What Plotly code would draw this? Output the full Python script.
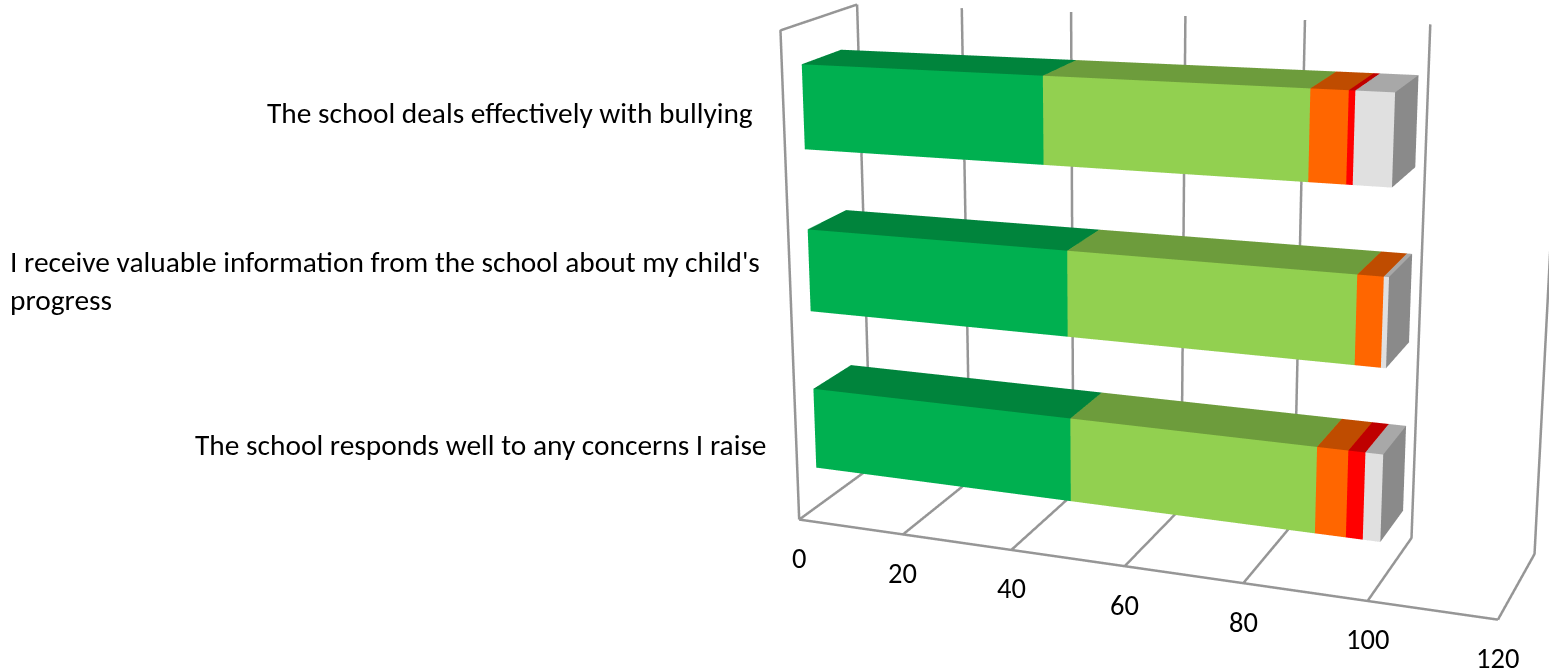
import plotly.graph_objects as go

categories = ["The school responds well to any concerns I raise",
              "I receive valuable information from the school about my child's<br>progress",
              "The school deals effectively with bullying"]
strongly_agree = [47.9, 47.5, 43.5]
agree = [41.6, 47.6, 43.6]
disagree = [5.0, 4.1, 5.9]
strongly_disagree = [2.7, 0.0, 1.0]
dont_know = [2.8, 0.8, 6.0]
front_colors = ["#00B050", "#92D050", "#FF6600", "#FF0000", "#E0E0E0"]
top_colors = ["#00843C", "#6D9C3C", "#BF4C00", "#BF0000", "#A8A8A8"]
side_color = "#8A8A8A"
x_ticks = [0, 20, 40, 60, 80, 100, 120]
values = [strongly_agree, agree, disagree, strongly_disagree, dont_know]

# Scene layout
FIG_W, FIG_H, SHIFT_Y, SHIFT_X = 1551, 1988, 659, 2
DEPTH, TALL = 0.247, 0.72
Y_FRONT, Y_BACK = 0.247, 0.764
BAR_H = 0.509
SLOTS = [0.507, 1.508, 2.506]
GRID = "#969696"
CAT_FONT = dict(family="Carlito, Calibri, Lato", size=29.4, color="black")
TICK_FONT = dict(family="Carlito, Calibri, Lato", size=28.5, color="black")

def px(p):  # window pixel column -> paper fraction
    return (p + SHIFT_X) / FIG_W

def py(p):  # window pixel row -> paper fraction of the taller figure
    return 1 - (p + SHIFT_Y) / FIG_H

fig = go.Figure()
for k in range(3):
    base = 0
    for s in range(5):
        v = values[s][k]
        if v <= 0:
            continue
        x0, x1 = base, base + v
        base = x1
        z0, z1 = SLOTS[k] - BAR_H / 2, SLOTS[k] + BAR_H / 2
        fig.add_trace(go.Mesh3d(
            x=[x0, x1, x1, x0, x0, x1, x1, x0],
            y=[Y_FRONT, Y_FRONT, Y_BACK, Y_BACK, Y_FRONT, Y_FRONT, Y_BACK, Y_BACK],
            z=[z0, z0, z0, z0, z1, z1, z1, z1],
            i=[0, 0, 4, 4, 1, 1, 0, 0, 3, 3, 0, 0],
            j=[1, 2, 5, 6, 2, 6, 1, 5, 2, 6, 3, 7],
            k=[2, 3, 6, 7, 6, 5, 5, 4, 6, 7, 7, 4],
            facecolor=[top_colors[s]] * 4 + [side_color] * 2 + [front_colors[s]] * 2 + [top_colors[s]] * 2 + [front_colors[s]] * 2,
            flatshading=True,
            lighting=dict(ambient=1, diffuse=0, specular=0, roughness=1, fresnel=0),
            hoverinfo="skip", showscale=False))

line = dict(color=GRID, width=5)
for t in x_ticks:
    fig.add_trace(go.Scatter3d(x=[t, t, t], y=[0, 1, 1], z=[0, 0, 3], mode="lines", line=line, hoverinfo="skip", showlegend=False))
fig.add_trace(go.Scatter3d(x=[0, 120], y=[0, 0], z=[0, 0], mode="lines", line=line, hoverinfo="skip", showlegend=False))
fig.add_trace(go.Scatter3d(x=[0, 0, 0], y=[0, 0, 1], z=[0, 3, 3], mode="lines", line=line, hoverinfo="skip", showlegend=False))

tick_notes = [dict(x=t, y=0, z=0, text=str(t), showarrow=False, yshift=-39, font=TICK_FONT) for t in x_ticks]
blank = dict(showbackground=False, showgrid=False, zeroline=False, showline=False,
             showticklabels=False, ticks="", title="", showspikes=False)

fig.update_layout(
    width=FIG_W, height=FIG_H, margin=dict(l=0, r=0, t=0, b=0), showlegend=False, paper_bgcolor="white",
    scene=dict(domain=dict(x=[0, 1], y=[0, 1]), dragmode="orbit",
               xaxis=dict(blank, range=[0, 120], tickvals=x_ticks),
               yaxis=dict(blank, range=[0, 1]),
               zaxis=dict(blank, range=[0, 3]),
               aspectmode="manual", aspectratio=dict(x=1, y=DEPTH, z=TALL),
               camera=dict(eye=dict(x=1.026, y=-3.056, z=0.869),
                           center=dict(x=-0.41, y=-0.35, z=-0.008),
                           up=dict(x=0.035, y=0.017, z=1),
                           projection=dict(type="perspective")),
               annotations=tick_notes),
    annotations=[
        dict(xref="paper", yref="paper", x=px(755), y=py(113), xanchor="right", yanchor="middle", text=categories[2], showarrow=False, font=CAT_FONT),
        dict(xref="paper", yref="paper", x=px(8), y=py(281), xanchor="left", yanchor="middle", align="left", text=categories[1], showarrow=False, font=CAT_FONT),
        dict(xref="paper", yref="paper", x=px(769), y=py(445), xanchor="right", yanchor="middle", text=categories[0], showarrow=False, font=CAT_FONT),
    ])

shift_js = (
    "document.documentElement.style.overflow='hidden';"
    "document.body.style.overflow='hidden';document.body.style.margin='0';"
    "var gd=document.getElementById('{plot_id}');"
    f"gd.style.position='absolute';gd.style.left='-{SHIFT_X}px';gd.style.top='-{SHIFT_Y}px';"
)
fig.write_html("out.html", post_script=shift_js)
